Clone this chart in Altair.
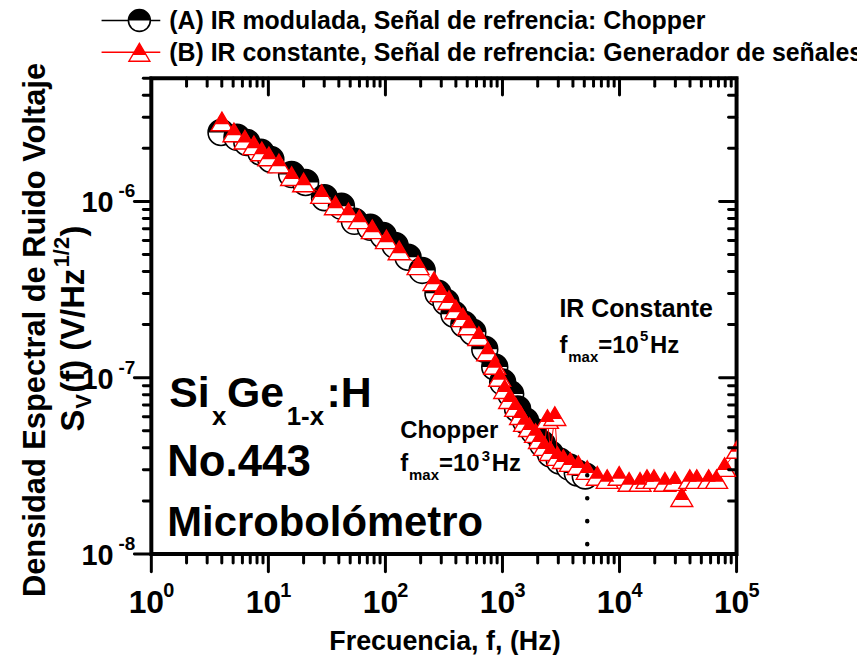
import altair as alt
import pandas as pd

# ---- data ----
freq_a = [3.94, 5.39, 6.55, 8.62, 10.5, 15.8, 20.8, 30.2, 42.1, 54.3, 74.3, 95.8, 121, 156, 206,
          281, 329, 385, 468, 558, 706, 859, 1004, 1175, 1347, 1575, 1842, 2197, 2570, 3064,
          3727, 4357, 5096]
sv_a = [2.46e-6, 2.31e-6, 2.16e-6, 1.90e-6, 1.73e-6, 1.42e-6, 1.28e-6, 1.05e-6, 9.38e-7, 7.71e-7,
        7.13e-7, 6.41e-7, 5.63e-7, 4.82e-7, 4.06e-7, 3.01e-7, 2.68e-7, 2.29e-7, 2.01e-7, 1.81e-7,
        1.45e-7, 1.15e-7, 9.44e-8, 8.07e-8, 6.64e-8, 5.68e-8, 4.98e-8, 4.20e-8, 3.69e-8, 3.37e-8,
        3.11e-8, 2.88e-8, 2.77e-8]

freq_b = [4.01, 5.08, 6.30, 7.52, 8.79, 10.1, 12.3, 15.8, 20.0, 28.5, 37.4, 48.3, 59.8, 77.2, 102,
          131, 190, 260, 298, 349, 400, 459, 516, 628, 748, 859, 947, 1045, 1151, 1295, 1428, 1545,
          1703, 1916, 2071, 2285, 2423, 2570, 2800, 2950, 3313, 3802, 4446, 5297, 6457, 7845, 9931,
          12070, 14970, 17170, 19690, 24420, 29710, 34060, 39840, 45710, 57760, 67550, 79070, 102000]
sv_b = [2.84e-6, 2.46e-6, 2.24e-6, 2.08e-6, 1.92e-6, 1.80e-6, 1.64e-6, 1.39e-6, 1.28e-6, 1.10e-6,
        9.49e-7, 8.66e-7, 7.91e-7, 6.94e-7, 6.09e-7, 5.27e-7, 4.34e-7, 3.52e-7, 3.05e-7, 2.75e-7,
        2.44e-7, 2.20e-7, 1.98e-7, 1.72e-7, 1.41e-7, 1.18e-7, 1.01e-7, 8.61e-8, 7.55e-8, 6.81e-8,
        6.13e-8, 5.60e-8, 5.24e-8, 4.85e-8, 4.48e-8, 4.09e-8, 5.82e-8, 3.83e-8, 6.05e-8, 3.59e-8,
        3.45e-8, 3.32e-8, 3.19e-8, 2.99e-8, 2.77e-8, 2.66e-8, 2.77e-8, 2.56e-8, 2.56e-8, 2.66e-8,
        2.66e-8, 2.56e-8, 2.59e-8, 2.10e-8, 2.66e-8, 2.66e-8, 2.66e-8, 2.66e-8, 3.11e-8, 3.94e-8]

fmax_chopper = [5300]
fmax_sv_top = [2.8e-8]
fmax_sv_bottom = [1e-8]

x_major = [1, 10, 100, 1000, 10000, 100000]
x_exp = ["0", "1", "2", "3", "4", "5"]
x_minor = [m * 10 ** k for k in range(5) for m in range(2, 10)]
y_major = [1e-8, 1e-7, 1e-6]
y_exp = ["-8", "-7", "-6"]
y_minor = [m * 10.0 ** k for k in (-8, -7) for m in range(2, 10)] + [2e-6, 3e-6, 4e-6, 5e-6]

legend_a = "(A) IR modulada, Señal de refrencia: Chopper"
legend_b = "(B) IR constante, Señal de refrencia: Generador de señales"

# ---- layout ----
W, H = 588, 478
OX, OY = 152, 77          # page position of plot origin
FONT = "Liberation Sans, Arial, sans-serif"

xs = alt.Scale(type="log", domain=[1, 1e5])
ys = alt.Scale(type="log", domain=[1e-8, 5e-6])

dfa = pd.DataFrame({"f": freq_a, "s": sv_a, "i": list(range(len(freq_a)))})
dfb = pd.DataFrame({"f": freq_b, "s": sv_b, "i": list(range(len(freq_b)))})
dummy = pd.DataFrame({"d": [0]})

X = alt.X("f:Q", scale=xs, axis=None)
Y = alt.Y("s:Q", scale=ys, axis=None)

circle_path = "M-1,0A1,1 0 1,1 1,0A1,1 0 1,1 -1,0Z"
half_path = "M-1,0A1,1 0 0,1 1,0Z"
tri_path = "M0,-0.85L1,0.85L-1,0.85Z"
tri_top = "M0,-0.85L0.65,0.255L-0.65,0.255Z"

CS = 26 * 26   # circle marker size
TS = 22 * 22   # triangle marker size

layers = []
layers.append(alt.Chart(dfa).mark_line(color="black", strokeWidth=1, clip=True).encode(X, Y, order="i:Q"))
layers.append(alt.Chart(dfa).mark_point(shape=circle_path, size=CS, filled=True, fill="white",
                                         stroke="black", strokeWidth=1.6, opacity=1, clip=True).encode(X, Y))
layers.append(alt.Chart(dfa).mark_point(shape=half_path, size=CS, filled=True, fill="black",
                                         strokeWidth=0, opacity=1, clip=True).encode(X, Y))
layers.append(alt.Chart(dfb).mark_line(color="red", strokeWidth=1, clip=True).encode(X, Y, order="i:Q"))
layers.append(alt.Chart(dfb).mark_point(shape=tri_path, size=TS, filled=True, fill="white",
                                         stroke="red", strokeWidth=1.4, opacity=1, clip=True).encode(X, Y))
layers.append(alt.Chart(dfb).mark_point(shape=tri_top, size=TS, filled=True, fill="red",
                                         strokeWidth=0, opacity=1, clip=True).encode(X, Y))

# dotted f_max marker
dfd = pd.DataFrame({"f": fmax_chopper, "s": fmax_sv_top, "s2": fmax_sv_bottom})
layers.append(alt.Chart(dfd).mark_rule(color="black", strokeWidth=4.5, strokeCap="round",
                                        strokeDash=[0.1, 23]).encode(X, Y, y2="s2:Q"))

# ---- ticks ----
def xticks(vals, y0, y1):
    d = pd.DataFrame({"f": vals})
    return alt.Chart(d).mark_rule(color="black", strokeWidth=3, strokeCap="round", clip=False).encode(
        X, y=alt.value(y0), y2=alt.value(y1))

def yticks(vals, x0, x1):
    d = pd.DataFrame({"s": vals})
    return alt.Chart(d).mark_rule(color="black", strokeWidth=3, strokeCap="round", clip=False).encode(
        Y, x=alt.value(x0), x2=alt.value(x1))

layers += [xticks(x_major, H, H + 18), xticks(x_minor, H, H + 9),
           xticks(x_major, 0, 17), xticks(x_minor, 0, 8),
           yticks(y_major, 0, -17), yticks(y_minor, 0, -8),
           yticks(y_major, W, W - 17), yticks(y_minor, W, W - 8)]

# ---- tick labels ----
dxl = pd.DataFrame({"f": x_major, "e": x_exp})
layers.append(alt.Chart(dxl).mark_text(text="10", align="center", baseline="alphabetic", dx=-5,
                                        fontSize=32, fontWeight="bold", font=FONT, clip=False).encode(
    X, y=alt.value(H + 59)))
layers.append(alt.Chart(dxl).mark_text(align="left", baseline="alphabetic", dx=12,
                                        fontSize=20, fontWeight="bold", font=FONT, clip=False).encode(
    X, y=alt.value(H + 43), text="e:N"))
dyl = pd.DataFrame({"s": y_major, "e": y_exp})
layers.append(alt.Chart(dyl).mark_text(text="10", align="right", baseline="alphabetic", dy=11,
                                        fontSize=29, fontWeight="bold", font=FONT, clip=False).encode(
    Y, x=alt.value(114 - OX)))
layers.append(alt.Chart(dyl).mark_text(align="left", baseline="alphabetic", dy=-4,
                                        fontSize=19, fontWeight="bold", font=FONT, clip=False).encode(
    Y, x=alt.value(119 - OX), text="e:N"))

# ---- free text ----
def label(txt, x, y, size, angle=0, align="left", color="black"):
    return alt.Chart(dummy).mark_text(text=txt, align=align, baseline="alphabetic", fontSize=size,
                                      fontWeight="bold", font=FONT, angle=angle, color=color,
                                      clip=False).encode(x=alt.value(x - OX), y=alt.value(y - OY))

texts = [
    label("Si", 170, 407, 43), label("x", 213, 425, 26), label("Ge", 228, 407, 43),
    label("1-x", 288, 425, 26), label(":H", 328, 407, 43),
    label("No.443", 168, 477, 44), label("Microbolómetro", 168, 537, 42),
    label("Chopper", 402, 438, 24),
    label("f", 402, 472, 24), label("max", 411, 481, 15), label("=10", 441, 472, 24),
    label("3", 484, 462, 15), label("Hz", 494, 472, 24),
    label("IR Constante", 562, 317, 25),
    label("f", 562, 353, 24), label("max", 571, 362, 15), label("=10", 601, 353, 24),
    label("5", 643, 341, 15), label("Hz", 653, 353, 24),
    label("Frecuencia, f, (Hz)", 447, 651, 27, align="center"),
    label("Densidad Espectral de Ruido Voltaje", 45, 330, 31, angle=270, align="center"),
    label("S", 84, 432, 33, angle=270), label("V", 91, 409, 22, angle=270),
    label("(f) (V/Hz", 84, 393, 33, angle=270), label("1/2", 69, 267, 22, angle=270),
    label(")", 84, 236, 33, angle=270),
    label(legend_a, 170, 28, 25), label(legend_b, 170, 60, 25),
]
layers += texts

# ---- legend symbols ----
def leg_line(y, color):
    return alt.Chart(dummy).mark_rule(color=color, strokeWidth=1.5).encode(
        x=alt.value(102 - OX), x2=alt.value(161 - OX), y=alt.value(y - OY))

def leg_sym(y, shape, size, fill, stroke=None, sw=0):
    kw = dict(shape=shape, size=size, filled=True, fill=fill, opacity=1, strokeWidth=sw)
    if stroke:
        kw["stroke"] = stroke
    return alt.Chart(dummy).mark_point(**kw).encode(x=alt.value(140 - OX), y=alt.value(y - OY))

layers += [leg_line(19, "black"), leg_sym(19, circle_path, 22 * 22, "white", "black", 1.6),
           leg_sym(19, half_path, 22 * 22, "black"),
           leg_line(51, "red"), leg_sym(51, tri_path, 21 * 21, "white", "red", 1.4),
           leg_sym(51, tri_top, 21 * 21, "red")]

chart = alt.layer(*layers).properties(
    width=W, height=H,
    padding={"left": OX - 8, "top": OY - 8, "right": 121, "bottom": 100},
    autosize=alt.AutoSizeParams(type="none"),
).configure_view(stroke="black", strokeWidth=4)

chart.save("out.html", embed_options={"renderer": "svg", "actions": False})
